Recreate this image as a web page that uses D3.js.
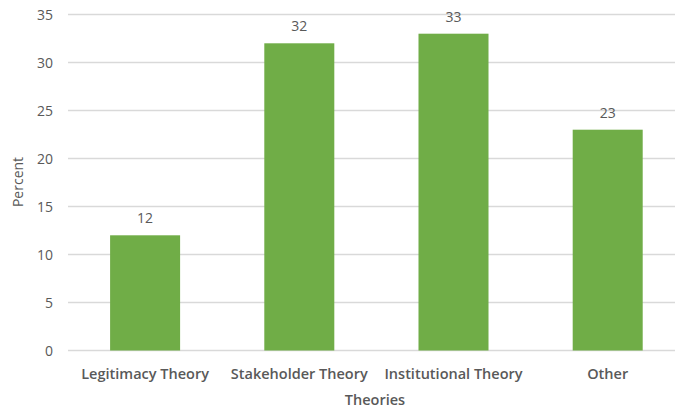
<!doctype html>
<html>
<head>
    <meta charset="UTF-8">
    <title>Theories bar chart</title>
    <script src="https://d3js.org/d3.v7.min.js"></script>
    <style>
        body { margin: 0; background: #fff; }
        text { font-family: "Open Sans", "Liberation Sans", sans-serif; fill: #595959; }
    </style>
</head>
<body>
    <svg class="chart" width="675" height="409"></svg>
    <script>
        // data
        var theories = ["Legitimacy Theory", "Stakeholder Theory", "Institutional Theory", "Other"];
        var percents = [12, 32, 33, 23];
        var yTicks = [0, 5, 10, 15, 20, 25, 30, 35];

        var svg = d3.select(".chart");
        var plotLeft = 68, plotRight = 684.8, plotTop = 14.5, plotBottom = 350.5;

        var x = d3.scaleBand()
            .domain(theories)
            .range([plotLeft, plotRight])
            .paddingInner(0.546)
            .paddingOuter(0.273);

        var y = d3.scaleLinear()
            .domain([0, 35])
            .range([plotBottom, plotTop]);

        // gridlines
        svg.append("g").selectAll("line")
            .data(yTicks)
            .enter().append("line")
            .attr("x1", plotLeft)
            .attr("x2", 675)
            .attr("y1", function (d) { return y(d); })
            .attr("y2", function (d) { return y(d); })
            .attr("stroke", "#d9d9d9")
            .attr("stroke-width", 1.3);

        // y tick labels
        svg.append("g").selectAll("text")
            .data(yTicks)
            .enter().append("text")
            .attr("x", 53)
            .attr("y", function (d) { return y(d) + 5; })
            .attr("text-anchor", "end")
            .attr("font-size", 14)
            .text(function (d) { return d; });

        // bars
        svg.append("g").selectAll("rect")
            .data(percents)
            .enter().append("rect")
            .attr("x", function (d, i) { return x(theories[i]); })
            .attr("width", x.bandwidth())
            .attr("y", function (d) { return y(d); })
            .attr("height", function (d) { return y(0) - y(d); })
            .attr("fill", "#70ad47");

        // value labels
        svg.append("g").selectAll("text")
            .data(percents)
            .enter().append("text")
            .attr("x", function (d, i) { return x(theories[i]) + x.bandwidth() / 2; })
            .attr("y", function (d) { return y(d) - 12; })
            .attr("text-anchor", "middle")
            .attr("font-size", 14)
            .text(function (d) { return d; });

        // category labels
        svg.append("g").selectAll("text")
            .data(theories)
            .enter().append("text")
            .attr("x", function (d) { return x(d) + x.bandwidth() / 2; })
            .attr("y", 379)
            .attr("text-anchor", "middle")
            .attr("font-size", 14.5)
            .attr("font-weight", 600)
            .text(function (d) { return d; });

        // axis titles
        svg.append("text")
            .attr("x", 375)
            .attr("y", 405)
            .attr("text-anchor", "middle")
            .attr("font-size", 14.5)
            .attr("font-weight", 600)
            .text("Theories");

        svg.append("text")
            .attr("transform", "translate(23,182) rotate(-90)")
            .attr("text-anchor", "middle")
            .attr("font-size", 14)
            .text("Percent");
    </script>
</body>
</html>
